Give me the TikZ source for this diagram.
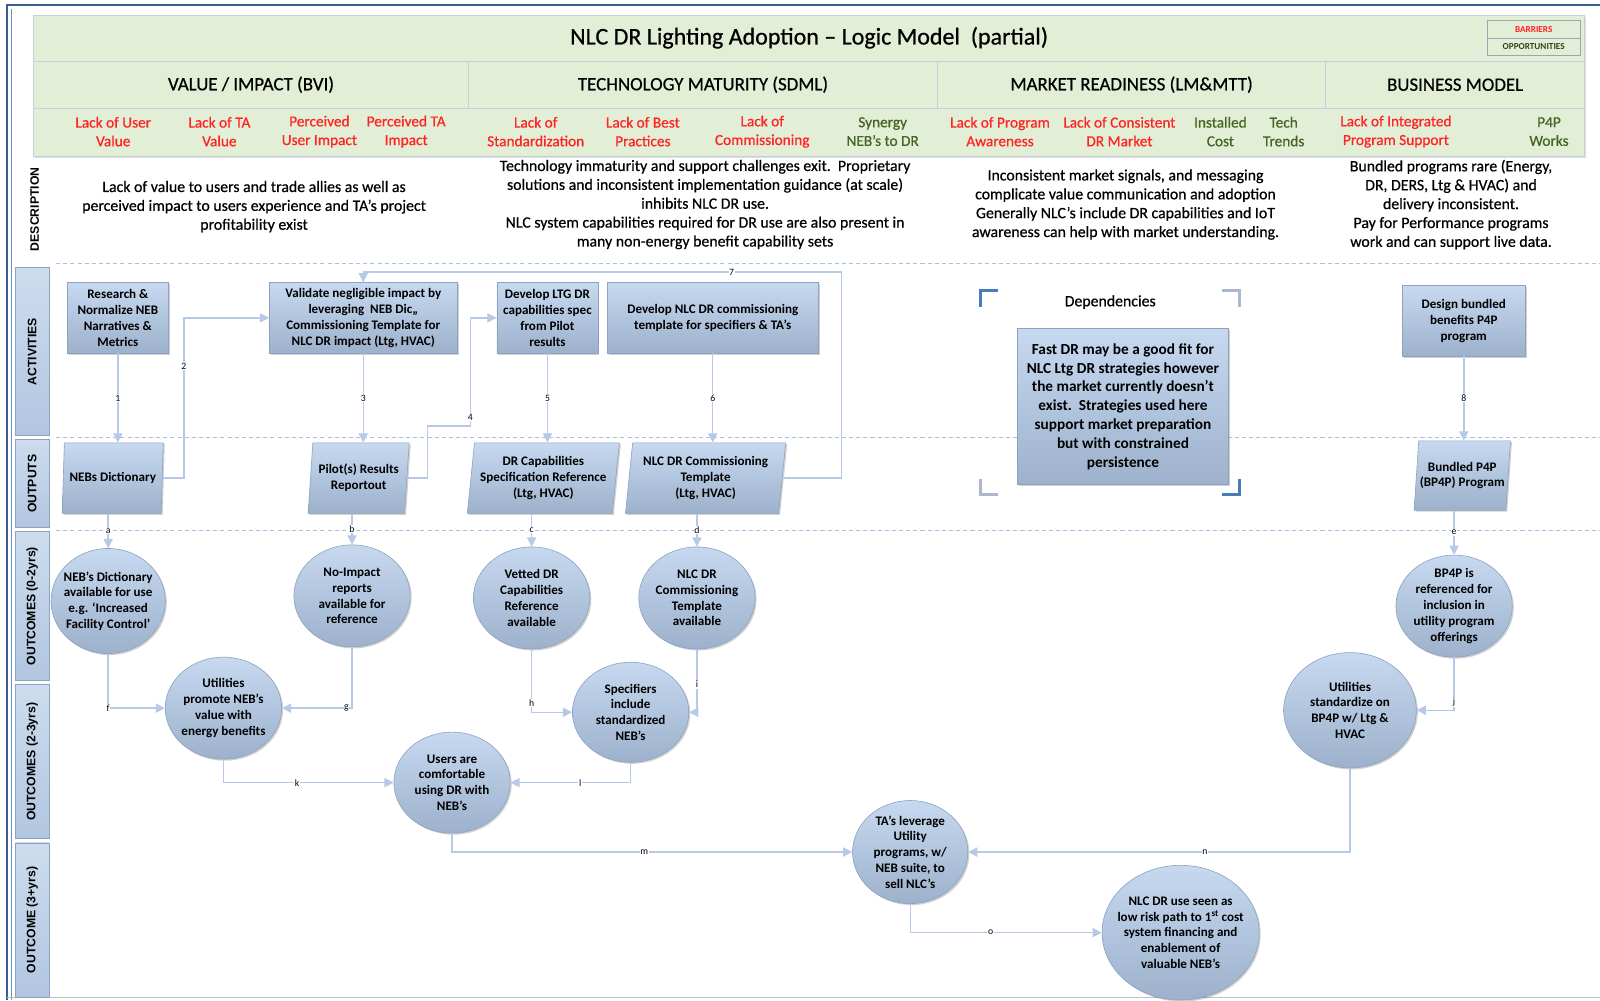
\documentclass[tikz,border=0pt]{standalone}
\usepackage{fontspec}
\setmainfont{Carlito}
\newfontfamily\medfont{Carlito}[FakeBold=0.6]
\newfontfamily\lanefont{Liberation Sans}
\usetikzlibrary{shapes.geometric,arrows.meta,shadows,calc}
\definecolor{hdrgreen}{RGB}{226,238,214}
\definecolor{hdrline}{RGB}{195,208,222}
\definecolor{barred}{RGB}{255,35,35}
\definecolor{oppgreen}{RGB}{70,100,35}
\definecolor{boxtop}{RGB}{198,217,240}
\definecolor{boxbot}{RGB}{158,177,204}
\definecolor{boxline}{RGB}{140,162,192}
\definecolor{conncol}{RGB}{182,202,232}
\definecolor{dashcol}{RGB}{165,194,228}
\definecolor{framecol}{RGB}{55,95,145}
\definecolor{bracketdark}{RGB}{70,125,185}
\definecolor{bracketlight}{RGB}{170,185,205}
\definecolor{lanetop}{RGB}{205,220,238}
\definecolor{lanebot}{RGB}{178,198,225}
\tikzset{
  shade3d/.style={top color=boxtop, bottom color=boxbot, draw=boxline, line width=0.6pt,
    drop shadow={shadow xshift=1.5pt, shadow yshift=-1.5pt, opacity=0.3, fill=black!60}},
  actbox/.style={shade3d, rectangle, align=center, inner sep=2pt, font=\bfseries\fontsize{12.8}{15.5}\selectfont},
  depbox/.style={shade3d, rectangle, align=center, inner sep=2pt, font=\bfseries\fontsize{15}{18.5}\selectfont},
  outbox/.style={shade3d, trapezium, trapezium left angle=81, trapezium right angle=99,
    trapezium stretches body, align=center, inner sep=1pt, font=\bfseries\fontsize{12.8}{15.5}\selectfont},
  outc/.style={shade3d, ellipse, align=center, inner xsep=-14pt, inner ysep=-10pt,
    font=\bfseries\fontsize{12.8}{15.5}\selectfont},
  lane/.style={rotate=90, top color=lanetop, bottom color=lanebot, draw=boxline, line width=0.6pt,
    inner sep=0pt, font=\lanefont\bfseries\fontsize{12}{12}\selectfont},
  conn/.style={draw=conncol, line width=1.4pt, -{Triangle[length=9pt,width=9pt]}},
  clab/.style={font=\fontsize{9.5}{10}\selectfont, inner sep=0.6pt, fill=white, text=black},
  desc/.style={align=center, font=\medfont\fontsize{15.5}{18.5}\selectfont},
  cat/.style={font=\medfont\fontsize{18.5}{20}\selectfont},
  bar/.style={align=center, text=barred, font=\medfont\fontsize{15}{18.3}\selectfont},
  opp/.style={align=center, text=oppgreen, font=\medfont\fontsize{15}{18.3}\selectfont},
  legbox/.style={fill=hdrgreen, draw=hdrline!80!black, line width=0.5pt, minimum width=92pt, minimum height=17pt,
    inner sep=0pt, font=\bfseries\fontsize{9}{10}\selectfont},
  dline/.style={draw=dashcol, line width=1.2pt, dash pattern=on 4pt off 3pt},
  bracket/.style={line width=3pt}
}
\begin{document}
\begin{tikzpicture}[x=1pt,y=-1pt]
\useasboundingbox (0,0) rectangle (1568,980);
% frame
\draw[framecol, line width=2pt] (7,980) -- (7,5) -- (1568,5);
\draw[framecol!70, line width=0.6pt] (11,980) -- (11,9);
\draw[black!25, line width=0.8pt] (7,977) -- (1568,977);
% header
\path[fill=hdrgreen, drop shadow={shadow xshift=1.5pt, shadow yshift=-1.5pt, opacity=0.25, fill=black!50}] (33,15) rectangle (1553,153);
\draw[hdrline, line width=0.8pt] (33,15) rectangle (1553,60);
\draw[hdrline, line width=0.8pt] (33,60) rectangle (1553,106);
\draw[hdrline, line width=0.8pt] (33,106) rectangle (1553,153);
\draw[hdrline, line width=0.8pt] (459,60) -- (459,106) (919,60) -- (919,106) (1299,60) -- (1299,106);
\node[font=\medfont\fontsize{23.5}{26}\selectfont] (title) at (793,37) {NLC DR Lighting Adoption – Logic Model\ \ (partial)};
\node[legbox, text=barred] (legb) at (1503,28.5) {BARRIERS};
\node[legbox, text=oppgreen!70!black] (lego) at (1503,45.5) {OPPORTUNITIES};
\node[cat] (catv) at (246,83) {VALUE / IMPACT (BVI)};
\node[cat] (catt) at (689,83) {TECHNOLOGY MATURITY (SDML)};
\node[cat] (catm) at (1109,83) {MARKET READINESS (LM\&MTT)};
\node[cat] (catb) at (1426,83) {BUSINESS MODEL};
\node[bar] (b1) at (111,129) {Lack of User\\Value};
\node[bar] (b2) at (215,129) {Lack of TA\\Value};
\node[bar] (b3) at (313,129) {Perceived\\User Impact};
\node[bar] (b4) at (398,129) {Perceived TA\\Impact};
\node[bar] (b5) at (525,129) {Lack of\\Standardization};
\node[bar] (b6) at (630,129) {Lack of Best\\Practices};
\node[bar] (b7) at (747,129) {Lack of\\Commissioning};
\node[opp] (b8) at (865,129) {Synergy\\NEB’s to DR};
\node[bar] (b9) at (980,129) {Lack of Program\\Awareness};
\node[bar] (b10) at (1097,129) {Lack of Consistent\\DR Market};
\node[opp] (b11) at (1196,129) {Installed\\Cost};
\node[opp] (b12) at (1258,129) {Tech\\Trends};
\node[bar] (b13) at (1368,129) {Lack of Integrated\\Program Support};
\node[opp] (b14) at (1518,129) {P4P\\Works};
% lanes
\node[rotate=90, font=\lanefont\bfseries\fontsize{12}{12}\selectfont] (ldesc) at (34,205) {DESCRIPTION};
\node[lane, minimum width=165pt, minimum height=33pt] (lact) at (31.5,344.5) {ACTIVITIES};
\node[lane, minimum width=86pt, minimum height=33pt] (lout) at (31.5,474) {OUTPUTS};
\node[lane, minimum width=146pt, minimum height=33pt] (loc1) at (31.5,594) {OUTCOMES (0-2yrs)};
\node[lane, minimum width=151pt, minimum height=33pt] (loc2) at (31.5,746.5) {OUTCOMES (2-3yrs)};
\node[lane, minimum width=151pt, minimum height=33pt] (loc3) at (31.5,901.5) {OUTCOME (3+yrs)};
% dashed separators
\draw[dline] (55,258) -- (1568,258);
\draw[dline] (55,429) -- (1568,429);
\draw[dline] (55,520) -- (1568,520);
% descriptions
\node[desc] (d1) at (249,202.5) {Lack of value to users and trade allies as well as\\perceived impact to users experience and TA’s project\\profitability exist};
\node[desc] (d2) at (691,200.5) {Technology immaturity and support challenges exit.\ \ Proprietary\\solutions and inconsistent implementation guidance (at scale)\\inhibits NLC DR use.\\NLC system capabilities required for DR use are also present in\\many non-energy benefit capability sets};
\node[desc] (d3) at (1103,200.5) {Inconsistent market signals, and messaging\\complicate value communication and adoption\\Generally NLC’s include DR capabilities and IoT\\awareness can help with market understanding.};
\node[desc] (d4) at (1422,200.5) {Bundled programs rare (Energy,\\DR, DERS, Ltg \& HVAC) and\\delivery inconsistent.\\Pay for Performance programs\\work and can support live data.};
% activities
\node[actbox, minimum width=99pt, minimum height=69pt] (a1) at (115.5,311.5) {Research \&\\Normalize NEB\\Narratives \&\\Metrics};
\node[actbox, minimum width=184pt, minimum height=69pt] (a2) at (356,311.5) {Validate negligible impact by\\leveraging\ \ NEB Dic,,\\Commissioning Template for\\NLC DR impact (Ltg, HVAC)};
\node[actbox, minimum width=99pt, minimum height=69pt] (a3) at (536.5,311.5) {Develop LTG DR\\capabilities spec\\from Pilot\\results};
\node[actbox, minimum width=207pt, minimum height=69pt] (a4) at (698.5,311.5) {Develop NLC DR commissioning\\template for specifiers \& TA’s};
\node[actbox, minimum width=121pt, minimum height=69pt] (a5) at (1434.5,314.5) {Design bundled\\benefits P4P\\program};
% dependencies
\node[font=\medfont\fontsize{15.5}{18}\selectfont] (deplab) at (1088,296) {Dependencies};
\node[depbox, minimum width=207pt, minimum height=153pt] (dep) at (1100.5,398.5) {Fast DR may be a good fit for\\NLC Ltg DR strategies however\\the market currently doesn’t\\exist.\ \ Strategies used here\\support market preparation\\but with constrained\\persistence};
\draw[bracket, bracketdark] (961,301) -- (961,285) -- (978,285);
\draw[bracket, bracketlight] (1198,285) -- (1215,285) -- (1215,301);
\draw[bracket, bracketlight] (961,469) -- (961,485) -- (978,485);
\draw[bracket, bracketdark] (1198,485) -- (1215,485) -- (1215,469);
% outputs
\node[outbox, minimum width=99pt, minimum height=69pt] (o1) at (110.5,468.5) {NEBs Dictionary};
\node[outbox, minimum width=99pt, minimum height=69pt] (o2) at (351.5,468.5) {Pilot(s) Results\\Reportout};
\node[outbox, minimum width=149pt, minimum height=69pt] (o3) at (532.5,468.5) {DR Capabilities\\Specification Reference\\(Ltg, HVAC)};
\node[outbox, minimum width=157pt, minimum height=69pt] (o4) at (691.5,468.5) {NLC DR Commissioning\\Template\\(Ltg, HVAC)};
\node[outbox, minimum width=94pt, minimum height=68pt] (o5) at (1433,466) {Bundled P4P\\(BP4P) Program};
% outcomes
\node[outc, minimum width=112pt, minimum height=103pt] (c1) at (106,589) {NEB’s Dictionary\\available for use\\e.g. ‘Increased\\Facility Control’};
\node[outc, minimum width=114pt, minimum height=100pt] (c2) at (345,584) {No-Impact\\reports\\available for\\reference};
\node[outc, minimum width=114pt, minimum height=100pt] (c3) at (521,586) {Vetted DR\\Capabilities\\Reference\\available};
\node[outc, minimum width=114pt, minimum height=100pt] (c4) at (683,586) {NLC DR\\Commissioning\\Template\\available};
\node[outc, minimum width=114pt, minimum height=100pt] (c5) at (219,694) {Utilities\\promote NEB’s\\value with\\energy benefits};
\node[outc, minimum width=114pt, minimum height=98pt] (c6) at (618,698) {Specifiers\\include\\standardized\\NEB’s};
\node[outc, minimum width=114pt, minimum height=99pt] (c7) at (443,767) {Users are\\comfortable\\using DR with\\NEB’s};
\node[outc, minimum width=113pt, minimum height=101pt] (c8) at (892,835) {TA’s leverage\\Utility\\programs, w/\\NEB suite, to\\sell NLC’s};
\node[outc, minimum width=154pt, minimum height=132pt] (c9) at (1157,914) {NLC DR use seen as\\low risk path to 1\textsuperscript{st} cost\\system financing and\\enablement of\\valuable NEB’s};
\node[outc, minimum width=114pt, minimum height=100pt] (c10) at (1425,594) {BP4P is\\referenced for\\inclusion in\\utility program\\offerings};
\node[outc, minimum width=130pt, minimum height=113pt] (c11) at (1323,696) {Utilities\\standardize on\\BP4P w/ Ltg \&\\HVAC};
% connectors: activities -> outputs
\draw[conn] (a1.south) -- (a1.south |- o1.north) node[clab, midway] {1};
\draw[conn] (o1.east) -- ++(21,0) |- node[clab, pos=0.35] {2} (a2.west);
\draw[conn] (a2.south) -- (a2.south |- o2.north) node[clab, midway] {3};
\draw[conn] (o2.east) -- ++(20,0) -- ++(0,-51) -- ++(42,0) |- node[clab, pos=0.04] {4} (a3.west);
\draw[conn] (a3.south) -- (a3.south |- o3.north) node[clab, midway] {5};
\draw[conn] (a4.south) -- (a4.south |- o4.north) node[clab, midway] {6};
\draw[conn] (o4.east) -- ++(58,0) |- node[clab, pos=0.615] {7} ([yshift=10pt]a2.north) -- (a2.north);
\draw[conn] (a5.south) -- (a5.south |- o5.north) node[clab, midway] {8};
% outputs -> outcomes
\draw[conn] (c1.north |- o1.south) -- (c1.north) node[clab, midway] {a};
\draw[conn] (c2.north |- o2.south) -- (c2.north) node[clab, midway] {b};
\draw[conn] (c3.north |- o3.south) -- (c3.north) node[clab, midway] {c};
\draw[conn] (c4.north |- o4.south) -- (c4.north) node[clab, midway] {d};
\draw[conn] (c10.north |- o5.south) -- (c10.north) node[clab, midway] {e};
% outcomes
\draw[conn] (c1.south) |- node[clab, pos=0.5] {f} (c5.west);
\draw[conn] (c2.south) |- node[clab, pos=0.54] {g} (c5.east);
\draw[conn] (c3.south) |- node[clab, pos=0.43] {h} (c6.west);
\draw[conn] (c4.south) |- node[clab, pos=0.28] {i} (c6.east);
\draw[conn] (c10.south) |- node[clab, pos=0.42] {j} (c11.east);
\draw[conn] (c5.south) |- node[clab, pos=0.716] {k} (c7.west);
\draw[conn] (c6.south) |- node[clab, pos=0.71] {l} (c7.east);
\draw[conn] (c7.south) |- node[clab, pos=0.74] {m} (c8.west);
\draw[conn] (c11.south) |- node[clab, pos=0.69] {n} (c8.east);
\draw[conn] (c8.south) |- node[clab, pos=0.71] {o} (c9.west);
\end{tikzpicture}
\end{document}
